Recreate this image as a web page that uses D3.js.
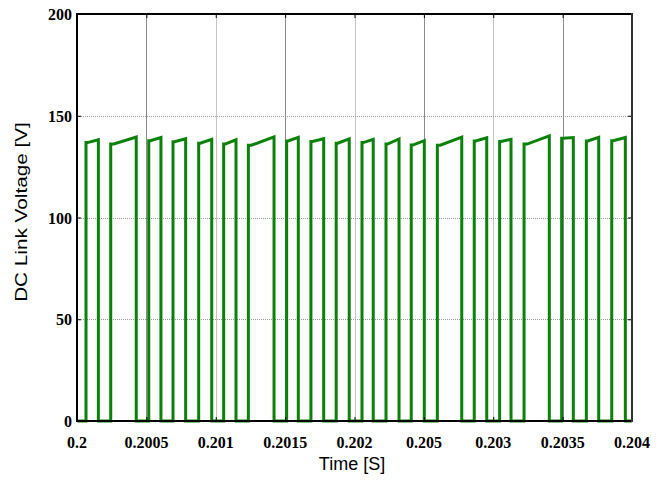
<!DOCTYPE html>
<html>
<head>
<meta charset="utf-8">
<script src="https://cdn.jsdelivr.net/npm/d3@7"></script>
<style>
  html, body { margin: 0; padding: 0; background: #fff; }
  svg { display: block; }
  .tk { font-family: "Liberation Serif", Times, "Times New Roman", "Liberation Sans", Arial, sans-serif; font-weight: bold; font-size: 16px; }
  .ttl { font-family: "Liberation Sans", Arial, sans-serif; }
</style>
</head>
<body>
<svg id="chart" width="667" height="480"></svg>
<script>
// ---- Data (time in seconds, voltage in volts) ----
const riseTimes = [0.200065, 0.200243, 0.200517, 0.200692, 0.200877, 0.201057, 0.201235, 0.201511, 0.201686, 0.201868,
                   0.202054, 0.202227, 0.202409, 0.202597, 0.202863, 0.203046, 0.203222, 0.203493, 0.203671, 0.203854];
const fallTimes = [0.200154, 0.200427, 0.200605, 0.200783, 0.200971, 0.201146, 0.201420, 0.201595, 0.201778, 0.201962,
                   0.202135, 0.202321, 0.202503, 0.202773, 0.202953, 0.203128, 0.203404, 0.203577, 0.203760, 0.203952];
const startVolts = [136.8, 136.1, 137.7, 137.2, 136.5, 136.1, 135.5, 137.6, 137.4, 136.5,
                    136.8, 136.1, 135.6, 135.5, 137.6, 137.4, 136.1, 138.9, 137.6, 137.7];
const endVolts   = [138.2, 139.5, 139.3, 138.7, 138.4, 138.2, 139.6, 139.4, 138.7, 138.6,
                    138.4, 138.6, 137.8, 139.5, 139.2, 138.4, 140.1, 139.3, 139.4, 139.3];
const xTickValues = [0.2, 0.2005, 0.201, 0.2015, 0.202, 0.2025, 0.203, 0.2035, 0.204];
const xTickLabels = ["0.2", "0.2005", "0.201", "0.2015", "0.202", "0.205", "0.203", "0.2035", "0.204"];
const yTickValues = [0, 50, 100, 150, 200];
const yTickLabels = ["0", "50", "100", "150", "200"];
const xDomain = [0.2, 0.204];
const yDomain = [0, 200];
const xTitle = "Time [S]";
const yTitle = "DC Link Voltage [V]";

// ---- Layout ----
const W = 667, H = 480;
const margin = { left: 77, right: 35, top: 14, bottom: 59 };
const svg = d3.select("#chart");
const x = d3.scaleLinear().domain(xDomain).range([margin.left, W - margin.right]);
const y = d3.scaleLinear().domain(yDomain).range([H - margin.bottom, margin.top]);

// Grid
const grid = svg.append("g");
grid.selectAll("line.vg").data(xTickValues.slice(1, -1)).join("line")
  .attr("x1", d => Math.round(x(d)) + 0.5).attr("x2", d => Math.round(x(d)) + 0.5)
  .attr("y1", y(200)).attr("y2", y(0))
  .attr("stroke", (d, i) => i % 2 === 0 ? "#8a8a8a" : "#c4c4c4").attr("stroke-width", 1);
grid.selectAll("line.hg").data(yTickValues.slice(1, -1)).join("line")
  .attr("x1", x(0.2)).attr("x2", x(0.204))
  .attr("y1", d => Math.round(y(d)) + 0.5).attr("y2", d => Math.round(y(d)) + 0.5)
  .attr("stroke", "#9a9a9a").attr("stroke-width", 1).attr("stroke-dasharray", "1,1");

// Waveform built from pulses
const pts = [[xDomain[0], 0]];
riseTimes.forEach((tr, i) => {
  const tf = fallTimes[i];
  const tflat = tr + (tf - tr) * 0.12;
  pts.push([tr, 0], [tr, startVolts[i]], [tflat, startVolts[i]], [tf, endVolts[i]], [tf, 0]);
});
pts.push([xDomain[1], 0]);
const line = d3.line().x(d => x(d[0])).y(d => y(d[1]));
svg.append("path").attr("d", line(pts))
  .attr("fill", "none").attr("stroke", "#0a820a").attr("stroke-width", 3)
  .attr("stroke-linejoin", "miter");

// Axes (box + inner ticks)
const xAxisB = d3.axisBottom(x).tickValues(xTickValues).tickSize(-4).tickFormat("");
const xAxisT = d3.axisTop(x).tickValues(xTickValues).tickSize(-4).tickFormat("");
const yAxisL = d3.axisLeft(y).tickValues(yTickValues).tickSize(-4).tickFormat("");
const yAxisR = d3.axisRight(y).tickValues(yTickValues).tickSizeInner(-4).tickSizeOuter(0).tickFormat("");
[[xAxisB, `translate(0,${y(0)})`], [xAxisT, `translate(0,${y(200)})`],
 [yAxisL, `translate(${x(0.2)},0)`], [yAxisR, `translate(${x(0.204)},0)`]].forEach(([ax, tr]) => {
  const g = svg.append("g").attr("transform", tr).call(ax);
  g.select(".domain").remove();
  g.selectAll(".tick line").attr("stroke", "#000");
});
// frame
svg.append("line").attr("x1", x(0.2)).attr("x2", x(0.204)).attr("y1", y(0)).attr("y2", y(0)).attr("stroke", "#000").attr("stroke-width", 2);
svg.append("line").attr("x1", x(0.2)).attr("x2", x(0.204)).attr("y1", y(200)).attr("y2", y(200)).attr("stroke", "#000").attr("stroke-width", 2);
svg.append("line").attr("x1", x(0.2)).attr("x2", x(0.2)).attr("y1", y(200) - 1).attr("y2", y(0) + 1).attr("stroke", "#000").attr("stroke-width", 2);
svg.append("line").attr("x1", x(0.204)).attr("x2", x(0.204)).attr("y1", y(200) - 1).attr("y2", y(0) + 1).attr("stroke", "#333").attr("stroke-width", 2);

// Tick labels
svg.append("g").selectAll("text").data(xTickValues).join("text")
  .attr("class", "tk")
  .attr("x", d => x(d)).attr("y", 448)
  .attr("text-anchor", "middle")
  .text((d, i) => xTickLabels[i]);
svg.append("g").selectAll("text").data(yTickValues).join("text")
  .attr("class", "tk")
  .attr("x", x(0.2) - 5).attr("y", d => y(d) + 6)
  .attr("text-anchor", "end")
  .text((d, i) => yTickLabels[i]);

// Titles
svg.append("text").attr("class", "ttl").attr("x", 352).attr("y", 470).attr("text-anchor", "middle")
  .style("font-size", "18px").text(xTitle);
svg.append("text").attr("class", "ttl")
  .attr("transform", `translate(27,212) rotate(-90) scale(1.22,1)`)
  .attr("text-anchor", "middle")
  .style("font-size", "17px").text(yTitle);
</script>
</body>
</html>
